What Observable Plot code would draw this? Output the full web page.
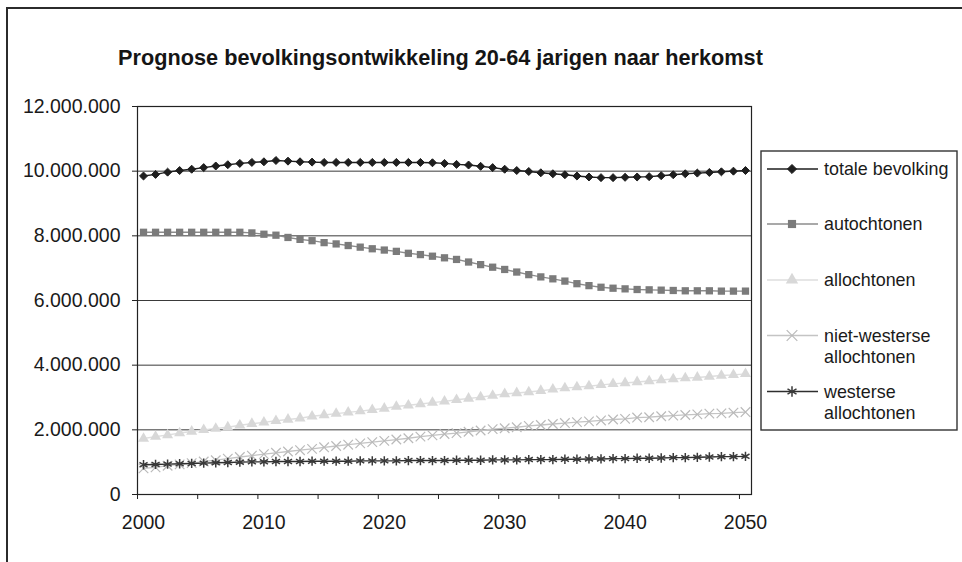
<!DOCTYPE html>
<html>
<head>
<meta charset="utf-8">
<script src="https://cdn.jsdelivr.net/npm/d3@7"></script>
<script src="https://cdn.jsdelivr.net/npm/@observablehq/plot@0.6"></script>
<style>
  body { margin: 0; background: #fff; font-family: "Liberation Sans", Arial, sans-serif; }
  #wrap { position: relative; width: 962px; height: 562px; overflow: hidden; background: #fff; }
  #border { position: absolute; left: 6px; top: 7px; width: 1000px; height: 600px;
            border-left: 2px solid #2b2b2b; border-top: 2px solid #2b2b2b; }
  #title { position: absolute; left: 0; width: 881px; top: 45px; text-align: center;
           font-weight: bold; font-size: 21.7px; color: #151515; white-space: nowrap; }
  #chart { position: absolute; left: 0; top: 0; }
  #legend { position: absolute; left: 760px; top: 150px; }
</style>
</head>
<body>
<div id="wrap">
  <div id="border"></div>
  <div id="chart"></div>
  <div id="title">Prognose bevolkingsontwikkeling 20-64 jarigen naar herkomst</div>
  <div id="legend"></div>
</div>
<script>
// Years 2000–2050, one value per year (millions of persons aged 20-64)
const years = d3.range(2000, 2051);

const totale = [
  9.85, 9.90, 9.97, 10.02, 10.06, 10.11, 10.16, 10.20, 10.24, 10.27,
  10.29, 10.33, 10.31, 10.29, 10.28, 10.27, 10.27, 10.27, 10.27, 10.27,
  10.27, 10.27, 10.27, 10.27, 10.26, 10.24, 10.21, 10.19, 10.15, 10.11,
  10.06, 10.02, 9.99, 9.95, 9.92, 9.89, 9.85, 9.82, 9.80, 9.80,
  9.81, 9.82, 9.83, 9.86, 9.89, 9.92, 9.94, 9.96, 9.98, 10.00, 10.02
];
const autochtonen = [
  8.11, 8.11, 8.11, 8.11, 8.11, 8.11, 8.11, 8.11, 8.11, 8.09,
  8.05, 8.02, 7.95, 7.89, 7.85, 7.79, 7.75, 7.70, 7.65, 7.60,
  7.56, 7.52, 7.46, 7.42, 7.37, 7.32, 7.27, 7.19, 7.11, 7.03,
  6.96, 6.88, 6.80, 6.73, 6.67, 6.60, 6.52, 6.46, 6.41, 6.38,
  6.36, 6.34, 6.33, 6.32, 6.31, 6.30, 6.30, 6.30, 6.29, 6.29, 6.29
];
const allochtonen = [
  1.73, 1.79, 1.84, 1.90, 1.95, 2.00, 2.04, 2.08, 2.14, 2.19,
  2.23, 2.28, 2.32, 2.36, 2.42, 2.46, 2.50, 2.54, 2.58, 2.62,
  2.66, 2.72, 2.76, 2.80, 2.84, 2.88, 2.93, 2.97, 3.01, 3.06,
  3.11, 3.14, 3.17, 3.21, 3.25, 3.29, 3.32, 3.35, 3.39, 3.42,
  3.45, 3.48, 3.51, 3.54, 3.57, 3.60, 3.62, 3.65, 3.68, 3.70, 3.73
];
const nietWesters = [
  0.81, 0.84, 0.89, 0.93, 0.97, 1.02, 1.06, 1.11, 1.16, 1.20,
  1.25, 1.29, 1.33, 1.37, 1.41, 1.46, 1.50, 1.54, 1.58, 1.62,
  1.66, 1.70, 1.74, 1.79, 1.83, 1.87, 1.90, 1.94, 1.98, 2.02,
  2.05, 2.08, 2.12, 2.15, 2.18, 2.21, 2.24, 2.26, 2.29, 2.32,
  2.34, 2.38, 2.39, 2.42, 2.44, 2.46, 2.48, 2.50, 2.51, 2.53, 2.55
];
const westers = [
  0.92, 0.93, 0.94, 0.95, 0.96, 0.97, 0.98, 0.99, 1.00, 1.01,
  1.01, 1.02, 1.02, 1.02, 1.03, 1.03, 1.03, 1.03, 1.04, 1.04,
  1.04, 1.04, 1.05, 1.05, 1.05, 1.05, 1.06, 1.06, 1.06, 1.07,
  1.07, 1.07, 1.08, 1.08, 1.08, 1.09, 1.09, 1.10, 1.10, 1.11,
  1.11, 1.12, 1.12, 1.13, 1.14, 1.14, 1.15, 1.16, 1.17, 1.17, 1.18
];

const yTicks = [0, 2e6, 4e6, 6e6, 8e6, 10e6, 12e6];
const yearLabels = [2000, 2010, 2020, 2030, 2040, 2050];
// category boundaries every five years (tick marks between categories)
const yearBoundaries = d3.range(1999.5, 2050, 5);

// series styling
const series = [
  {name: "totale bevolking", lines: ["totale bevolking"], values: totale,
   line: "#1e1e1e", lineWidth: 1.4, symbol: "diamond2", r: 3.6, fill: "#1e1e1e", stroke: "#1e1e1e", sw: 1},
  {name: "autochtonen", lines: ["autochtonen"], values: autochtonen,
   line: "#8c8c8c", lineWidth: 1.4, symbol: "square", r: 4.1, fill: "#7b7b7b", stroke: "none", sw: 0},
  {name: "allochtonen", lines: ["allochtonen"], values: allochtonen,
   line: "#dedede", lineWidth: 1.4, symbol: "triangle", r: 4.1, fill: "#d8d8d8", stroke: "none", sw: 0},
  {name: "niet-westerse allochtonen", lines: ["niet-westerse", "allochtonen"], values: nietWesters,
   line: "#c4c4c4", lineWidth: 1.3, symbol: "times", r: 4.4, fill: "none", stroke: "#bababa", sw: 1.2},
  {name: "westerse allochtonen", lines: ["westerse", "allochtonen"], values: westers,
   line: "#2e2e2e", lineWidth: 1.4, symbol: "asterisk", r: 4.4, fill: "none", stroke: "#3a3a3a", sw: 1.5}
];

const fmt = d => d3.format(",")(d).replace(/,/g, ".");

const seriesMarks = series.flatMap(s => {
  const rows = years.map((year, i) => ({year, value: s.values[i] * 1e6}));
  return [
    Plot.line(rows, {x: "year", y: "value", stroke: s.line, strokeWidth: s.lineWidth}),
    Plot.dot(rows, {x: "year", y: "value", symbol: () => s.symbol, r: s.r,
                    fill: s.fill, stroke: s.stroke, strokeWidth: s.sw})
  ];
});

const chart = Plot.plot({
  width: 962,
  height: 562,
  marginLeft: 137,
  marginRight: 211,
  marginTop: 106,
  marginBottom: 68,
  style: {fontFamily: "Liberation Sans, Arial, sans-serif", fontSize: "19.5px", color: "#1a1a1a", background: "transparent"},
  x: {domain: [1999.5, 2050.5]},
  y: {domain: [0, 12e6]},
  marks: [
    Plot.gridY(yTicks.filter(d => d > 0), {stroke: "#3a3a3a", strokeOpacity: 1, strokeWidth: 1}),
    Plot.axisY(yTicks, {tickSize: 5, tickPadding: 12, tickFormat: fmt, stroke: "#222", label: null}),
    Plot.axisX(yearBoundaries, {tickSize: 5, tickFormat: () => "", stroke: "#222", label: null}),
    Plot.axisX(yearLabels, {tickSize: 0, tickPadding: 21, tickFormat: d => String(d), label: null}),
    ...seriesMarks,
    Plot.frame({stroke: "#222", strokeWidth: 1.2})
  ]
});
document.getElementById("chart").append(chart);

// legend
const symbolTypes = {diamond2: d3.symbolDiamond2, square: d3.symbolSquare, triangle: d3.symbolTriangle,
                     times: d3.symbolTimes, asterisk: d3.symbolAsterisk};
const rowY = [19, 74, 130, 185.5, 241.5];
const lg = d3.select("#legend").append("svg").attr("width", 200).attr("height", 283);
lg.append("rect").attr("x", 1).attr("y", 1).attr("width", 196).attr("height", 279)
  .attr("fill", "#fff").attr("stroke", "#333").attr("stroke-width", 1.4);
series.forEach((s, i) => {
  const g = lg.append("g").attr("transform", `translate(0,${rowY[i]})`);
  g.append("line").attr("x1", 7).attr("x2", 58).attr("y1", 0).attr("y2", 0)
    .attr("stroke", s.line).attr("stroke-width", s.lineWidth);
  g.append("path").attr("transform", "translate(32,0)")
    .attr("d", d3.symbol(symbolTypes[s.symbol], Math.PI * (s.r + 0.5) ** 2)())
    .attr("fill", s.fill).attr("stroke", s.stroke).attr("stroke-width", s.sw);
  s.lines.forEach((t, j) => {
    g.append("text").attr("x", 64).attr("y", j * 21).attr("dy", "0.35em")
      .attr("font-family", "Liberation Sans, Arial, sans-serif").attr("font-size", 17.9)
      .attr("fill", "#1a1a1a").text(t);
  });
});
</script>
</body>
</html>
